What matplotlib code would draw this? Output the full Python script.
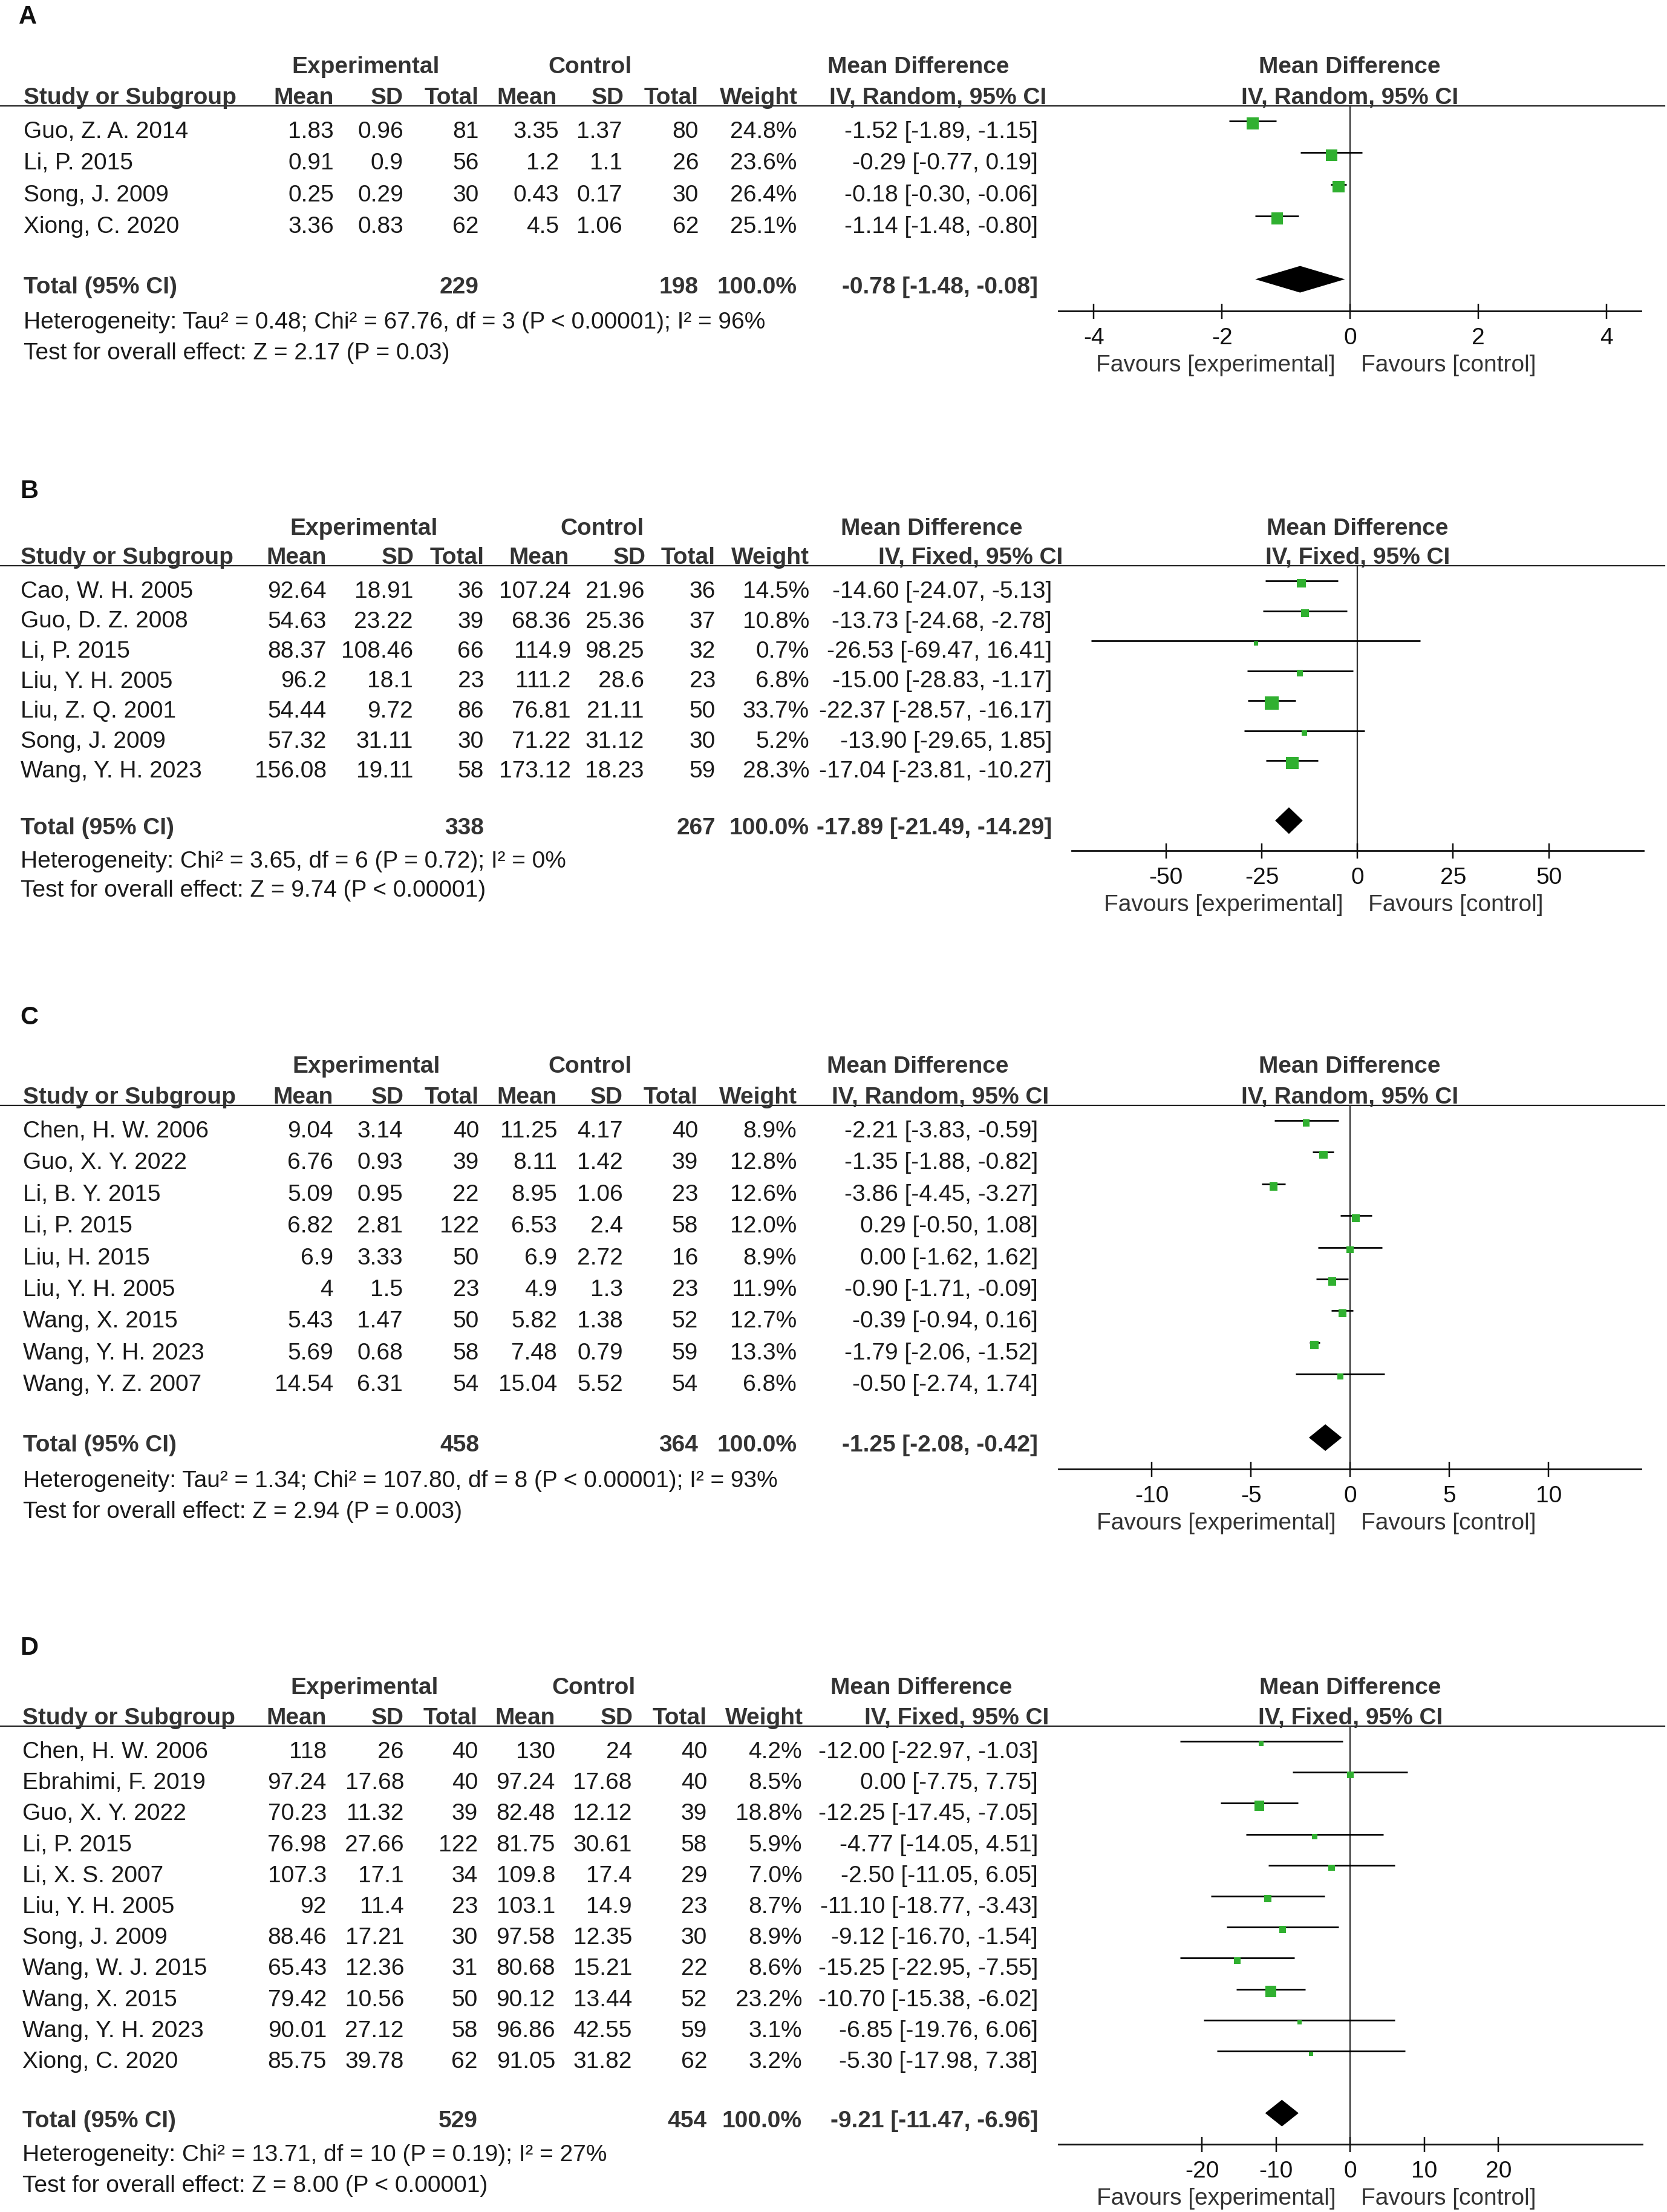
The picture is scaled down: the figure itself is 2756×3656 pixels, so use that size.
import numpy as np
import matplotlib
matplotlib.use("Agg")
import matplotlib.pyplot as plt
from matplotlib.transforms import blended_transform_factory

W, H = 2756, 3656
DPI = 100
PT = 72 / DPI  # points per pixel

plt.rcParams['font.family'] = ['Liberation Sans', 'DejaVu Sans']
plt.rcParams['font.size'] = 28

TXT = '#1a1a1a'
BOLD = '#333333'
GREEN = '#30b030'

# ---------------- data ----------------
# A: random effects
a_study = ["Guo, Z. A. 2014", "Li, P. 2015", "Song, J. 2009", "Xiong, C. 2020"]
a_exp_mean = [1.83, 0.91, 0.25, 3.36]
a_exp_sd = [0.96, 0.9, 0.29, 0.83]
a_exp_n = [81, 56, 30, 62]
a_ctl_mean = [3.35, 1.2, 0.43, 4.5]
a_ctl_sd = [1.37, 1.1, 0.17, 1.06]
a_ctl_n = [80, 26, 30, 62]
a_weight = [24.8, 23.6, 26.4, 25.1]
a_md = [-1.52, -0.29, -0.18, -1.14]
a_lo = [-1.89, -0.77, -0.30, -1.48]
a_hi = [-1.15, 0.19, -0.06, -0.80]
a_total = (229, 198, -0.78, -1.48, -0.08)
a_het = "Heterogeneity: Tau² = 0.48; Chi² = 67.76, df = 3 (P < 0.00001); I² = 96%"
a_test = "Test for overall effect: Z = 2.17 (P = 0.03)"
a_ticks = [-4, -2, 0, 2, 4]

# B: fixed effects
b_study = ["Cao, W. H. 2005", "Guo, D. Z. 2008", "Li, P. 2015", "Liu, Y. H. 2005",
           "Liu, Z. Q. 2001", "Song, J. 2009", "Wang, Y. H. 2023"]
b_exp_mean = [92.64, 54.63, 88.37, 96.2, 54.44, 57.32, 156.08]
b_exp_sd = [18.91, 23.22, 108.46, 18.1, 9.72, 31.11, 19.11]
b_exp_n = [36, 39, 66, 23, 86, 30, 58]
b_ctl_mean = [107.24, 68.36, 114.9, 111.2, 76.81, 71.22, 173.12]
b_ctl_sd = [21.96, 25.36, 98.25, 28.6, 21.11, 31.12, 18.23]
b_ctl_n = [36, 37, 32, 23, 50, 30, 59]
b_weight = [14.5, 10.8, 0.7, 6.8, 33.7, 5.2, 28.3]
b_md = [-14.60, -13.73, -26.53, -15.00, -22.37, -13.90, -17.04]
b_lo = [-24.07, -24.68, -69.47, -28.83, -28.57, -29.65, -23.81]
b_hi = [-5.13, -2.78, 16.41, -1.17, -16.17, 1.85, -10.27]
b_total = (338, 267, -17.89, -21.49, -14.29)
b_het = "Heterogeneity: Chi² = 3.65, df = 6 (P = 0.72); I² = 0%"
b_test = "Test for overall effect: Z = 9.74 (P < 0.00001)"
b_ticks = [-50, -25, 0, 25, 50]

# C: random effects
c_study = ["Chen, H. W. 2006", "Guo, X. Y. 2022", "Li, B. Y. 2015", "Li, P. 2015",
           "Liu, H. 2015", "Liu, Y. H. 2005", "Wang, X. 2015", "Wang, Y. H. 2023",
           "Wang, Y. Z. 2007"]
c_exp_mean = [9.04, 6.76, 5.09, 6.82, 6.9, 4, 5.43, 5.69, 14.54]
c_exp_sd = [3.14, 0.93, 0.95, 2.81, 3.33, 1.5, 1.47, 0.68, 6.31]
c_exp_n = [40, 39, 22, 122, 50, 23, 50, 58, 54]
c_ctl_mean = [11.25, 8.11, 8.95, 6.53, 6.9, 4.9, 5.82, 7.48, 15.04]
c_ctl_sd = [4.17, 1.42, 1.06, 2.4, 2.72, 1.3, 1.38, 0.79, 5.52]
c_ctl_n = [40, 39, 23, 58, 16, 23, 52, 59, 54]
c_weight = [8.9, 12.8, 12.6, 12.0, 8.9, 11.9, 12.7, 13.3, 6.8]
c_md = [-2.21, -1.35, -3.86, 0.29, 0.00, -0.90, -0.39, -1.79, -0.50]
c_lo = [-3.83, -1.88, -4.45, -0.50, -1.62, -1.71, -0.94, -2.06, -2.74]
c_hi = [-0.59, -0.82, -3.27, 1.08, 1.62, -0.09, 0.16, -1.52, 1.74]
c_total = (458, 364, -1.25, -2.08, -0.42)
c_het = "Heterogeneity: Tau² = 1.34; Chi² = 107.80, df = 8 (P < 0.00001); I² = 93%"
c_test = "Test for overall effect: Z = 2.94 (P = 0.003)"
c_ticks = [-10, -5, 0, 5, 10]

# D: fixed effects
d_study = ["Chen, H. W. 2006", "Ebrahimi, F. 2019", "Guo, X. Y. 2022", "Li, P. 2015",
           "Li, X. S. 2007", "Liu, Y. H. 2005", "Song, J. 2009", "Wang, W. J. 2015",
           "Wang, X. 2015", "Wang, Y. H. 2023", "Xiong, C. 2020"]
d_exp_mean = [118, 97.24, 70.23, 76.98, 107.3, 92, 88.46, 65.43, 79.42, 90.01, 85.75]
d_exp_sd = [26, 17.68, 11.32, 27.66, 17.1, 11.4, 17.21, 12.36, 10.56, 27.12, 39.78]
d_exp_n = [40, 40, 39, 122, 34, 23, 30, 31, 50, 58, 62]
d_ctl_mean = [130, 97.24, 82.48, 81.75, 109.8, 103.1, 97.58, 80.68, 90.12, 96.86, 91.05]
d_ctl_sd = [24, 17.68, 12.12, 30.61, 17.4, 14.9, 12.35, 15.21, 13.44, 42.55, 31.82]
d_ctl_n = [40, 40, 39, 58, 29, 23, 30, 22, 52, 59, 62]
d_weight = [4.2, 8.5, 18.8, 5.9, 7.0, 8.7, 8.9, 8.6, 23.2, 3.1, 3.2]
d_md = [-12.00, 0.00, -12.25, -4.77, -2.50, -11.10, -9.12, -15.25, -10.70, -6.85, -5.30]
d_lo = [-22.97, -7.75, -17.45, -14.05, -11.05, -18.77, -16.70, -22.95, -15.38, -19.76, -17.98]
d_hi = [-1.03, 7.75, -7.05, 4.51, 6.05, -3.43, -1.54, -7.55, -6.02, 6.06, 7.38]
d_total = (529, 454, -9.21, -11.47, -6.96)
d_het = "Heterogeneity: Chi² = 13.71, df = 10 (P = 0.19); I² = 27%"
d_test = "Test for overall effect: Z = 8.00 (P < 0.00001)"
d_ticks = [-20, -10, 0, 10, 20]

col_heads = ["Mean", "SD", "Total", "Mean", "SD", "Total", "Weight"]

# ---------------- layout (pixels of the output image) ----------------
layouts = {
    'A': dict(sq0=204, dy=52.3, axis=(1750, 2713), xlim=(-4.55, 4.54), label=(31, 39),
              cols=[39, 552, 667, 792, 924, 1029, 1155, 1317, 1716],
              hcols=[552, 667, 792, 921, 1032, 1155, 1319, 1730],
              groups=[605, 975, 1518], method="IV, Random, 95% CI"),
    'B': dict(sq0=964, dy=49.5, axis=(1772, 2717), xlim=(-74.6, 74.7), label=(33, 823),
              cols=[34, 540, 683, 800, 944, 1065, 1183, 1338, 1739],
              hcols=[540, 685, 801, 941, 1068, 1183, 1338, 1757],
              groups=[602, 996, 1540], method="IV, Fixed, 95% CI"),
    'C': dict(sq0=1856, dy=52.4, axis=(1750, 2713), xlim=(-14.7, 14.66), label=(33, 1693),
              cols=[38, 551, 666, 792, 921, 1030, 1154, 1317, 1716],
              hcols=[551, 668, 792, 921, 1030, 1154, 1318, 1734],
              groups=[606, 976, 1517], method="IV, Random, 95% CI"),
    'D': dict(sq0=2882, dy=51.2, axis=(1750, 2715), xlim=(-39.35, 39.4), label=(33, 2735),
              cols=[37, 540, 668, 790, 918, 1045, 1169, 1326, 1716],
              hcols=[540, 668, 790, 918, 1047, 1169, 1328, 1734],
              groups=[603, 982, 1523], method="IV, Fixed, 95% CI"),
}

panels = {
    'A': (a_study, a_exp_mean, a_exp_sd, a_exp_n, a_ctl_mean, a_ctl_sd, a_ctl_n,
          a_weight, a_md, a_lo, a_hi, a_total, a_het, a_test, a_ticks),
    'B': (b_study, b_exp_mean, b_exp_sd, b_exp_n, b_ctl_mean, b_ctl_sd, b_ctl_n,
          b_weight, b_md, b_lo, b_hi, b_total, b_het, b_test, b_ticks),
    'C': (c_study, c_exp_mean, c_exp_sd, c_exp_n, c_ctl_mean, c_ctl_sd, c_ctl_n,
          c_weight, c_md, c_lo, c_hi, c_total, c_het, c_test, c_ticks),
    'D': (d_study, d_exp_mean, d_exp_sd, d_exp_n, d_ctl_mean, d_ctl_sd, d_ctl_n,
          d_weight, d_md, d_lo, d_hi, d_total, d_het, d_test, d_ticks),
}

fig = plt.figure(figsize=(W / DPI, H / DPI), dpi=DPI)


def ci_text(m, l, h):
    return f"{m:.2f} [{l:.2f}, {h:.2f}]"


def draw_panel(name):
    (study, em, esd, en, cm, csd, cn, wt, md, lo, hi,
     total, het, test, ticks) = panels[name]
    lay = layouts[name]
    n = len(study)
    sq0, dy = lay['sq0'], lay['dy']

    def row(ypx):
        return (ypx - sq0) / dy

    tot = n + 0.925
    head_px = sq0 - 29.5
    axis_px = sq0 + (tot + 1.0) * dy
    top_px = head_px - 1.6 * dy
    bot_px = axis_px + 110

    # table area, x in pixels, y in rows
    tab = fig.add_axes([0, 1 - bot_px / H, 1, (bot_px - top_px) / H])
    tab.set_xlim(0, W)
    tab.set_ylim(row(bot_px), row(top_px))
    tab.axis('off')

    fig.text(lay['label'][0] / W, 1 - lay['label'][1] / H, name,
             fontsize=30, fontweight='bold', color='#111111', va='baseline')

    cols = lay['cols']
    # group headers
    gy = row(head_px - 1.03 * dy)
    for cx, s in zip(lay['groups'], ["Experimental", "Control", "Mean Difference"]):
        tab.text(cx, gy, s, ha='center', va='baseline', fontweight='bold', color=BOLD)
    hy = row(head_px - 3)
    tab.text(cols[0], hy, "Study or Subgroup", ha='left', va='baseline',
             fontweight='bold', color=BOLD)
    for cx, s in zip(lay['hcols'], col_heads + [lay['method']]):
        tab.text(cx, hy, s, ha='right', va='baseline', fontweight='bold', color=BOLD)
    axL, axR = lay['axis']
    mid = (axL + axR) / 2
    tab.text(mid, gy, "Mean Difference", ha='center', va='baseline',
             fontweight='bold', color=BOLD)
    tab.text(mid, hy, lay['method'], ha='center', va='baseline',
             fontweight='bold', color=BOLD)
    tab.axhline(row(head_px), xmin=0, xmax=2752 / W, color='#222222', lw=2.2 * PT)

    # study rows
    for i in range(n):
        by = i + 24 / dy
        vals = [f"{em[i]:g}", f"{esd[i]:g}", f"{en[i]}", f"{cm[i]:g}", f"{csd[i]:g}",
                f"{cn[i]}", f"{wt[i]:.1f}%", ci_text(md[i], lo[i], hi[i])]
        tab.text(cols[0], by, study[i], ha='left', va='baseline', color=TXT)
        for cx, s in zip(cols[1:], vals):
            tab.text(cx, by, s, ha='right', va='baseline', color=TXT)

    # total row
    ty = tot + 23 / dy
    tab.text(cols[0], ty, "Total (95% CI)", ha='left', va='baseline',
             fontweight='bold', color=BOLD)
    for cx, s in [(cols[3], f"{total[0]}"), (cols[6], f"{total[1]}"),
                  (cols[7], "100.0%"), (cols[8], ci_text(*total[2:]))]:
        tab.text(cx, ty, s, ha='right', va='baseline', fontweight='bold', color=BOLD)
    tab.text(cols[0], tot + 1.56, het, ha='left', va='baseline', color=TXT)
    tab.text(cols[0], tot + 2.54, test, ha='left', va='baseline', color=TXT)

    # forest plot
    fa = fig.add_axes([axL / W, 1 - axis_px / H, (axR - axL) / W, (axis_px - head_px) / H])
    fa.patch.set_alpha(0)
    fa.set_xlim(lay['xlim'])
    fa.set_ylim(row(axis_px), row(head_px))
    for s in ['top', 'left', 'right']:
        fa.spines[s].set_visible(False)
    fa.spines['bottom'].set_linewidth(2.8 * PT)
    fa.spines['bottom'].set_color('#111111')
    fa.set_yticks([])
    fa.set_xticks(ticks)
    fa.set_xticklabels([f"{t:g}" for t in ticks])
    fa.tick_params(axis='x', direction='inout', length=25 * PT, width=2.5 * PT,
                   pad=14.5 * PT, labelsize=28, colors='#111111')
    fa.axvline(0, color='#333333', lw=2.3 * PT, zorder=1)

    y = np.arange(n)
    fa.hlines(y - 4 / dy, lo, hi, color='black', lw=2.7 * PT, zorder=2)
    side = np.maximum(7, 3.85 * np.sqrt(np.array(wt))) * PT
    fa.scatter(md, y, s=side ** 2, marker='s', color=GREEN, linewidths=0, zorder=3)
    hh = 22 / dy
    fa.fill([total[3], total[2], total[4], total[2]], [tot, tot - hh, tot, tot + hh],
            color='black', lw=0, zorder=3)

    tr = blended_transform_factory(fa.transData, fa.transAxes)
    fa.annotate("Favours [experimental]", xy=(0, 0), xycoords=tr,
                xytext=(-24 * PT, -100 * PT), textcoords='offset points',
                ha='right', va='baseline', color=BOLD, fontsize=28)
    fa.annotate("Favours [control]", xy=(0, 0), xycoords=tr,
                xytext=(18 * PT, -100 * PT), textcoords='offset points',
                ha='left', va='baseline', color=BOLD, fontsize=28)


for p in ['A', 'B', 'C', 'D']:
    draw_panel(p)

fig.savefig("out.png", dpi=DPI, facecolor='white')
